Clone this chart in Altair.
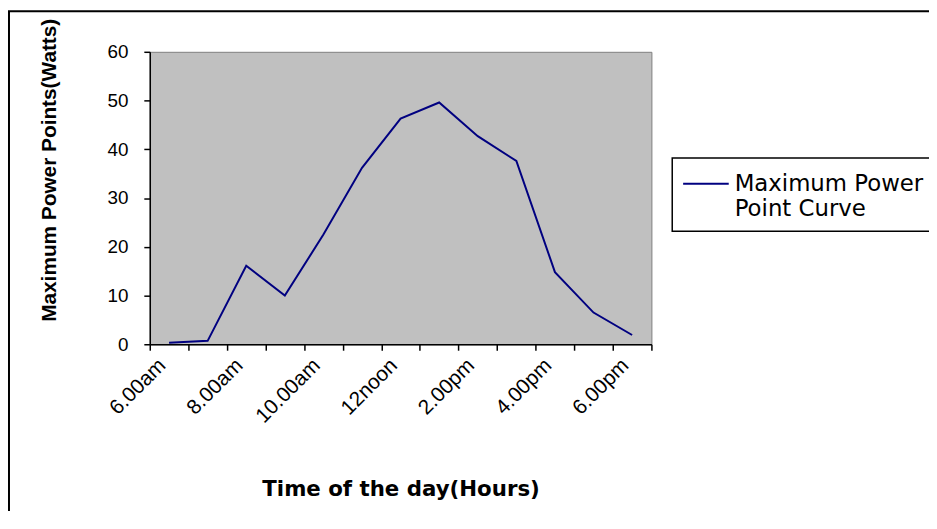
import json
import altair as alt
import pandas as pd

# ---- data ----
hours = ["6.00am", "7.00am", "8.00am", "9.00am", "10.00am", "11.00am", "12noon",
         "1.00pm", "2.00pm", "3.00pm", "4.00pm", "5.00pm", "6.00pm"]
power = [0.3, 0.7, 16.1, 10.0, 22.5, 36.2, 46.3, 49.6, 42.7, 37.6, 14.8, 6.5, 1.9]
shown_labels = ["6.00am", "8.00am", "10.00am", "12noon", "2.00pm", "4.00pm", "6.00pm"]
y_ticks = [0, 10, 20, 30, 40, 50, 60]
legend_lines = ["Maximum Power", "Point Curve"]
legend_rows = [0, 1]

x_title = "Time of the day(Hours)"
y_title = "Maximum Power Points(Watts)"

# ---- layout (pixels) ----
W, H = 506, 295
PADL, PADT, PADR, PADB = 143, 42, 280, 166
FONT = "Liberation Sans"
WIDE = "DejaVu Sans"
LINE_COLOR = "#000080"

df = pd.DataFrame({"hour": hours, "power": power})
one = pd.DataFrame({"k": [0]})

label_expr = ("indexof(" + json.dumps(shown_labels) +
              ", datum.value) >= 0 ? datum.value : ''")

line = alt.Chart(df).mark_line(color=LINE_COLOR, strokeWidth=2).encode(
    x=alt.X(
        "hour:N", sort=hours,
        scale=alt.Scale(type="band", paddingInner=0, paddingOuter=0),
        axis=alt.Axis(
            title=x_title, labelAngle=-45, labelAlign="right",
            labelBaseline="middle", labelOffset=-7, labelPadding=12,
            labelFontSize=21,
            tickBand="extent", labelExpr=label_expr, labelOverlap=False,
            labelBound=False, titleX=W / 2, titleY=153,
            titleBaseline="alphabetic", titleAlign="center",
            titleFont=WIDE, titleFontSize=21.5,
        ),
    ),
    y=alt.Y(
        "power:Q",
        scale=alt.Scale(domain=[0, 60], nice=False),
        axis=alt.Axis(
            values=y_ticks, title=y_title, grid=False, labelPadding=16,
            titleAngle=-90, titleX=-91, titleY=119, titleFontSize=21,
            titleAlign="center", titleBaseline="bottom",
        ),
    ),
)

# outer chart border (extends past the visible window on the right/bottom)
outer = alt.Chart(one).mark_rect(filled=False, stroke="black", strokeWidth=2).encode(
    x=alt.value(-PADL + 1), x2=alt.value(W + PADR + 20),
    y=alt.value(-PADT + 1), y2=alt.value(H + PADB + 20),
)

# legend box, sample line and text
legend_box = alt.Chart(one).mark_rect(fill="white", stroke="black", strokeWidth=1.5).encode(
    x=alt.value(527), x2=alt.value(W + PADR + 20),
    y=alt.value(107), y2=alt.value(181),
)
legend_rule = alt.Chart(one).mark_rule(color=LINE_COLOR, strokeWidth=2).encode(
    x=alt.value(538), x2=alt.value(584), y=alt.value(133),
)
legend_df = pd.DataFrame({"t": legend_lines, "row": legend_rows})
legend_text = alt.Chart(legend_df).mark_text(
    align="left", baseline="alphabetic", font=WIDE, fontSize=23, color="black",
).encode(
    text="t:N",
    x=alt.value(590),
    y=alt.Y("row:Q", scale=alt.Scale(domain=[0, 1], range=[140, 166]), axis=None),
)

chart = alt.layer(outer, line, legend_box, legend_rule, legend_text).resolve_scale(
    y="independent"
).properties(
    width=W, height=H,
    autosize=alt.AutoSizeParams(type="none"),
    padding={"left": PADL, "top": PADT, "right": PADR, "bottom": PADB},
    background="white",
).configure_view(
    fill="#C0C0C0", stroke="#808080", strokeWidth=1,
).configure_axis(
    domainColor="black", domainWidth=1.5, tickColor="black", tickWidth=1.5,
    tickSize=6, labelFont=FONT, labelFontSize=19, labelColor="black",
    titleFont=FONT, titleFontSize=19, titleFontWeight="bold", titleColor="black",
)

chart.save("out.html", embed_options={"renderer": "svg", "actions": False})
